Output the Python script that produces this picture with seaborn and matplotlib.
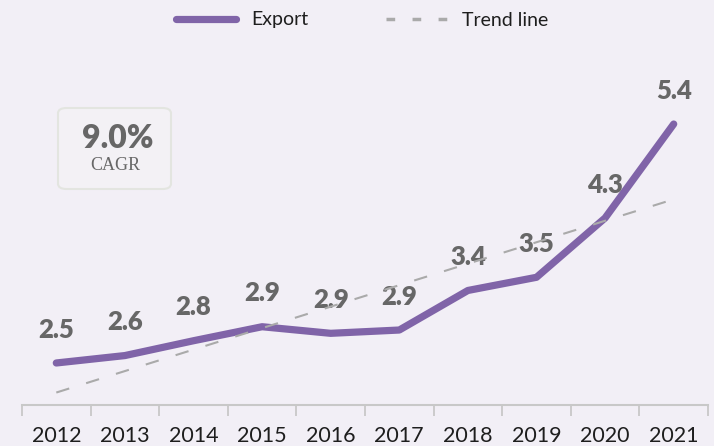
import matplotlib
matplotlib.use("Agg")
import matplotlib.pyplot as plt
from matplotlib.patches import FancyBboxPatch
from matplotlib.lines import Line2D
import seaborn as sns
import pandas as pd
import numpy as np

# data
years = ['2012', '2013', '2014', '2015', '2016', '2017', '2018', '2019', '2020', '2021']
export = [2.50, 2.59, 2.77, 2.94, 2.86, 2.90, 3.38, 3.54, 4.26, 5.40]
labels = ['2.5', '2.6', '2.8', '2.9', '2.9', '2.9', '3.4', '3.5', '4.3', '5.4']
cagr_text = '9.0%'

bg = '#F2EFF6'
purple = '#8064A8'
grey_txt = '#676767'

df = pd.DataFrame({'year': years, 'pos': np.arange(len(years)), 'export': export})

sns.set_style('white')
plt.rcParams['font.family'] = ['Lato', 'DejaVu Sans']

fig = plt.figure(figsize=(7.14, 4.46), dpi=100, facecolor=bg)
ax = fig.add_axes([22 / 714, 41 / 446, 686 / 714, 365 / 446])
ax.set_facecolor(bg)

sns.lineplot(data=df, x='pos', y='export', ax=ax, color=purple, linewidth=5.2,
             solid_capstyle='round', solid_joinstyle='round', zorder=2)

for x, y, t in zip(df['pos'], df['export'], labels):
    ax.annotate(t, (x, y), xytext=(0, 24), textcoords='offset points',
                ha='center', va='center', fontsize=18.5, fontweight='heavy',
                color=grey_txt, zorder=3)

# trend line (least squares)
sns.regplot(data=df, x='pos', y='export', ax=ax, scatter=False, ci=None,
            line_kws=dict(color='#AAAAAA', linewidth=1.5, dashes=(6.5, 8.5), zorder=4))

ax.set_xlim(-0.5, 9.5)
ax.set_ylim(1.99, 6.42)
ax.set_xlabel('')
ax.set_ylabel('')
ax.set_yticks([])
ax.set_xticks(df['pos'])
ax.set_xticklabels(years, fontsize=15.5, fontweight='normal', color='#1E1E1E')
ax.set_xticks(np.arange(-0.5, 10, 1), minor=True)
ax.tick_params(axis='x', which='major', length=0, pad=15)
ax.tick_params(axis='x', which='minor', length=8, width=1.3, color='#C8C8C8', direction='out', bottom=True)
for s in ['top', 'right', 'left']:
    ax.spines[s].set_visible(False)
ax.spines['bottom'].set_color('#C8C8C8')
ax.spines['bottom'].set_linewidth(1.5)

# CAGR box
box = FancyBboxPatch((58 / 714, 1 - 189 / 446), 113 / 714, 81 / 446,
                     boxstyle='round,pad=0,rounding_size=0.012', transform=fig.transFigure,
                     facecolor='#F3F1F5', edgecolor='#E3E5E0', linewidth=1.5, zorder=1)
fig.patches.append(box)
fig.text(118 / 714, 1 - 138 / 446, cagr_text, ha='center', va='center', fontsize=23,
         fontweight='heavy', color=grey_txt, zorder=6)
fig.text(115 / 714, 1 - 166 / 446, 'CAGR', ha='center', va='center', fontsize=13,
         family='Liberation Serif', color=grey_txt, zorder=6)

handles = [Line2D([], [], color=purple, linewidth=5.2, solid_capstyle='round'),
           Line2D([], [], color='#AAAAAA', linewidth=2.5, dashes=(2.5, 5))]
fig.legend(handles, ['Export', 'Trend line'], loc='center', bbox_to_anchor=(362 / 714, 1 - 20 / 446),
           ncol=2, frameon=False, handlelength=3.1, handletextpad=0.8,
           columnspacing=4.0, prop=dict(family='Lato', weight='normal', size=14),
           labelcolor='#1E1E1E')

fig.savefig('out.png', dpi=100, facecolor=bg)
